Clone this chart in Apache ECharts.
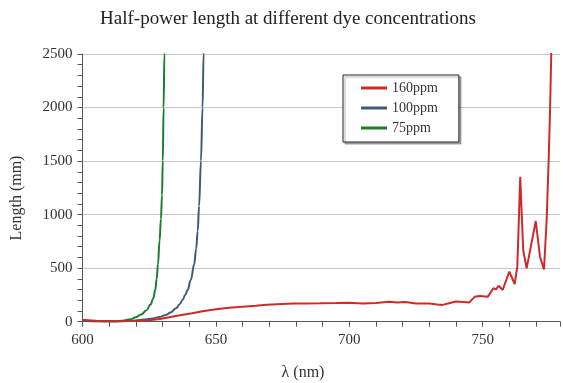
<!DOCTYPE html>
<html>
<head>
<meta charset="utf-8">
<script src="https://cdn.jsdelivr.net/npm/echarts@6/dist/echarts.min.js"></script>
<style>
html,body{margin:0;padding:0;background:#fff;}
#chart{width:563px;height:383px;}
</style>
</head>
<body>
<div id="chart"></div>
<script>
// ---- data ----
const seriesNames = ['160ppm', '100ppm', '75ppm'];

const redWl  = [600, 602, 605, 610, 615, 620, 625, 629, 635, 641, 645, 650, 655, 660, 665, 669, 675, 679, 684, 689, 695,
                700, 705, 710, 715, 718, 721, 725, 730, 733, 735, 737, 740, 743, 745, 747, 749, 752, 754, 755, 756, 757.5,
                760, 762, 763, 764.1, 765.2, 766.5, 767.2, 769.9, 771.5, 773, 774, 774.8, 775.3, 775.8];
const redLen = [18, 14, 8, 4, 4, 8, 14, 25, 53, 78, 98, 116, 130, 140, 150, 159, 166, 171, 171, 172, 175,
                178, 170, 175, 186, 180, 183, 170, 170, 160, 157, 170, 188, 185, 180, 232, 240, 234, 312, 302, 336, 296,
                467, 352, 514, 1354, 670, 498, 505, 940, 607, 489, 950, 1550, 2000, 2600];

const blueWl  = [600, 605, 612, 616, 620, 623, 626.3, 629, 631.3, 633, 635, 636.5, 637.5, 638.5, 639.4, 640.6, 641.9,
                 642.6, 643.2, 643.7, 644.4, 645.0, 645.4, 645.6];
const blueLen = [10, 5, 3, 6, 12, 20, 31, 45, 63, 85, 125, 165, 203, 250, 296, 390, 540,
                 680, 850, 1080, 1500, 2000, 2500, 2700];

const greenWl  = [600, 605, 608, 612, 615, 618, 620, 622, 624, 625.5, 626.5, 627.3, 627.8, 628.3, 628.9, 629.4,
                  629.8, 630.1, 630.4, 630.7, 630.8];
const greenLen = [12, 5, 3, 5, 10, 22, 42, 68, 108, 160, 215, 300, 400, 540, 760, 960,
                  1180, 1500, 2000, 2500, 2700];

const xLabelValues = [600, 650, 700, 750];
const yLabelValues = [0, 500, 1000, 1500, 2000, 2500];

const colors = ['#cf2a2a', '#415a73', '#1e7d2d'];

function pairs(xs, ys) { return xs.map((x, i) => [x, ys[i]]); }

const chart = echarts.init(document.getElementById('chart'), null, {renderer: 'canvas'});
const serif = '"Liberation Serif", "DejaVu Serif", serif';
const axisColor = '#555';

const option = {
  animation: false,
  backgroundColor: '#fff',
  grid: {left: 82.5, right: 0, top: 54, bottom: 61.3, containLabel: false},
  xAxis: {
    type: 'value', min: 600, max: 779, interval: 10,
    axisLine: {show: true, lineStyle: {color: axisColor, width: 1}},
    axisTick: {show: true, inside: false, length: 5, lineStyle: {color: axisColor}},
    axisLabel: {
      margin: 11, fontFamily: serif, fontSize: 15, color: '#333',
      formatter: v => (xLabelValues.indexOf(v) >= 0 ? String(v) : '')
    },
    splitLine: {show: false}
  },
  yAxis: {
    type: 'value', min: 0, max: 2500, interval: 500,
    axisLine: {show: true, lineStyle: {color: axisColor, width: 1}},
    axisTick: {show: true, inside: false, length: 5, lineStyle: {color: axisColor}},
    minorTick: {show: true, splitNumber: 5, length: 5, lineStyle: {color: axisColor}},
    axisLabel: {
      margin: 10, fontFamily: serif, fontSize: 15, color: '#333',
      formatter: v => (yLabelValues.indexOf(v) >= 0 ? String(v) : '')
    },
    splitLine: {show: true, lineStyle: {color: '#c6c6c6', width: 1}}
  },
  legend: {
    orient: 'vertical', left: 343, top: 75,
    data: seriesNames,
    icon: 'rect', itemWidth: 26, itemHeight: 3, itemGap: 6,
    padding: [6, 21, 7, 18],
    backgroundColor: '#fff', borderColor: '#222', borderWidth: 1, borderRadius: 0,
    shadowColor: 'rgba(0,0,0,0.3)', shadowBlur: 1, shadowOffsetX: 2, shadowOffsetY: 2,
    textStyle: {fontFamily: serif, fontSize: 14, color: '#333'}
  },
  graphic: [
    {type: 'text', x: 288, y: 19, style: {text: 'Half-power length at different dye concentrations',
      font: '19px ' + serif, fill: '#222', textAlign: 'center', textVerticalAlign: 'middle'}},
    {type: 'text', x: 17, y: 198, rotation: Math.PI / 2, style: {text: 'Length (mm)',
      font: '16px ' + serif, fill: '#333', textAlign: 'center', textVerticalAlign: 'middle'}},
    {type: 'text', x: 303, y: 373, style: {text: 'λ (nm)',
      font: '16px ' + serif, fill: '#333', textAlign: 'center', textVerticalAlign: 'middle'}}
  ],
  series: [
    {name: seriesNames[0], type: 'line', data: pairs(redWl, redLen), symbol: 'none', z: 4,
     color: colors[0], lineStyle: {width: 2, color: colors[0]}, itemStyle: {color: colors[0]}},
    {name: seriesNames[1], type: 'line', data: pairs(blueWl, blueLen), symbol: 'none', z: 3,
     smooth: 0.4, smoothMonotone: 'x',
     color: colors[1], lineStyle: {width: 2, color: colors[1]}, itemStyle: {color: colors[1]}},
    {name: seriesNames[2], type: 'line', data: pairs(greenWl, greenLen), symbol: 'none', z: 2,
     smooth: 0.4, smoothMonotone: 'x',
     color: colors[2], lineStyle: {width: 2, color: colors[2]}, itemStyle: {color: colors[2]}}
  ]
};
chart.setOption(option);
</script>
</body>
</html>
